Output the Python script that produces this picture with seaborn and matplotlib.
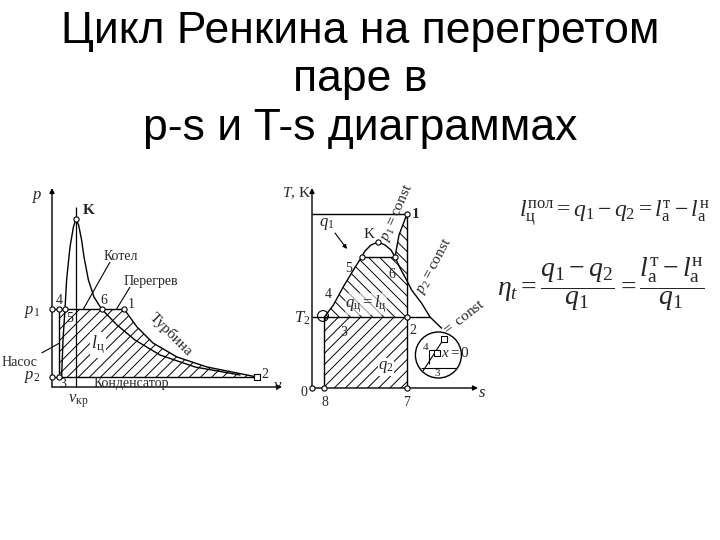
import matplotlib
matplotlib.use("Agg")
import matplotlib.pyplot as plt
from matplotlib.patches import Polygon, Circle
import seaborn as sns

# ---------------- data ----------------
title_lines = ["Цикл Ренкина на перегретом", "паре в", "p-s и T-s диаграммах"]

# p-v diagram (arbitrary units)
pv_p1 = 3.9
pv_p2 = 0.5
pv_v3 = 0.35
pv_v5 = 0.65
pv_v6 = 2.48
pv_v1 = 3.6
pv_v2 = 10.25
pv_vK = 1.2
pv_pK = 8.4
pv_dome_v = [0.48, 0.55, 0.65, 0.73, 0.9, 1.07, 1.2, 1.33, 1.48, 1.6, 1.82, 2.1, 2.48, 3.25, 4.15, 5.4, 7.15, 9.4]
pv_dome_p = [0.45, 2.35, 3.9, 5.35, 7.0, 8.0, 8.4, 8.1, 7.35, 6.5, 5.35, 4.5, 3.9, 3.1, 2.35, 1.6, 1.0, 0.6]
pv_turb_v = [3.6, 4.25, 5.05, 6.25, 7.75, 10.25]
pv_turb_p = [3.9, 3.0, 2.2, 1.5, 1.0, 0.5]

# T-s diagram (arbitrary units)
ts_T1 = 8.7
ts_T2 = 3.55
ts_s3 = 0.62
ts_s1 = 4.75
ts_left_s = [0.62, 1.07, 1.57, 2.07, 2.48]
ts_left_T = [3.55, 4.15, 5.07, 5.9, 6.55]
ts_top_s = [2.48, 2.65, 2.95, 3.3, 3.65, 3.95, 4.15]
ts_top_T = [6.55, 6.85, 7.15, 7.3, 7.15, 6.9, 6.55]
ts_right_s = [4.15, 4.4, 4.73, 4.98, 5.48, 5.9, 6.48]
ts_right_T = [6.55, 6.0, 5.4, 4.9, 4.24, 3.55, 2.99]
ts_sup_s = [4.15, 4.35, 4.75]
ts_sup_T = [6.55, 7.65, 8.7]
ts_K = (3.3, 7.3)
ts_5 = (2.48, 6.55)

# ---------------- style ----------------
sns.set_theme(style="white")
plt.rcParams["font.family"] = ["Liberation Serif", "DejaVu Serif"]
plt.rcParams["mathtext.fontset"] = "custom"
plt.rcParams["mathtext.rm"] = "Liberation Serif"
plt.rcParams["mathtext.it"] = "Liberation Serif:italic"
plt.rcParams["mathtext.bf"] = "Liberation Serif:bold"
plt.rcParams["hatch.linewidth"] = 0.7
plt.rcParams["hatch.color"] = "black"

fig = plt.figure(figsize=(7.2, 5.4), dpi=100)
fig.patch.set_facecolor("white")


def px_axes(left, top, right, bottom):
    return fig.add_axes([left / 720, 1 - bottom / 540, (right - left) / 720, (bottom - top) / 540])


LW = 1.0
K = "black"


def curve(ax, x, y, lw=LW):
    sns.lineplot(x=x, y=y, ax=ax, sort=False, estimator=None, color=K, lw=lw, legend=False)


def seg(ax, x0, y0, x1, y1, lw=LW):
    ax.plot([x0, x1], [y0, y1], color=K, lw=lw, solid_capstyle="butt", clip_on=False)


def arrow_axis(ax, x0, y0, x1, y1):
    ax.annotate("", xy=(x1, y1), xytext=(x0, y0),
                arrowprops=dict(arrowstyle="-|>", color=K, lw=1.0, mutation_scale=7,
                                shrinkA=0, shrinkB=0), annotation_clip=False)


def pts(ax, x, y, marker="o"):
    sns.scatterplot(x=x, y=y, ax=ax, marker=marker, s=14, facecolor="white",
                    edgecolor=K, linewidth=0.8, zorder=5, legend=False, clip_on=False)


# ---------------- title ----------------
title_font = ["Liberation Sans Narrow", "Liberation Sans", "DejaVu Sans"]
for txt, yb in zip(title_lines, [43, 91, 140]):
    fig.text(0.5, 1 - yb / 540, txt, ha="center", va="baseline", fontsize=32,
             family=title_font, color="black")

# ---------------- p-v diagram ----------------
ax1 = px_axes(52, 190, 280, 387)
ax1.set_xlim(0, 11.4)
ax1.set_ylim(0, 9.85)
ax1.axis("off")

hatch1 = Polygon(list(zip([pv_v3, pv_v3] + pv_turb_v, [pv_p2, pv_p1] + pv_turb_p)),
                 closed=True, facecolor="white", edgecolor=K, hatch="///", lw=0.0, zorder=1)
ax1.add_patch(hatch1)

arrow_axis(ax1, 0, 0, 0, 9.95)
arrow_axis(ax1, 0, 0, 11.5, 0)
curve(ax1, pv_dome_v, pv_dome_p)
curve(ax1, pv_turb_v, pv_turb_p)
seg(ax1, 0, pv_p1, pv_v1, pv_p1)
seg(ax1, 0, pv_p2, pv_v2, pv_p2)
seg(ax1, pv_v3, pv_p2, pv_v3, pv_p1)
seg(ax1, pv_vK, 0, pv_vK, 9.0, lw=0.9)
# leader lines
seg(ax1, 2.9, 6.25, 1.57, pv_p1, lw=0.8)
seg(ax1, 3.9, 5.0, 3.23, pv_p1, lw=0.8)
seg(ax1, -0.52, 1.7, 0.38, 2.2, lw=0.8)

pts(ax1, [0, pv_v3, pv_v5, pv_v6, pv_v1, pv_vK, 0, pv_v3],
    [pv_p1, pv_p1, pv_p1, pv_p1, pv_p1, pv_pK, pv_p2, pv_p2])
pts(ax1, [pv_v2], [pv_p2], marker="s")

fs = 10
ax1.text(-0.75, 9.6, "p", style="italic", fontsize=12, ha="center", va="center")
ax1.text(1.85, 8.85, "K", fontsize=11, fontweight="bold", ha="center", va="center")
ax1.text(3.45, 6.55, "Котел", fontsize=fs, ha="center", va="center")
ax1.text(4.95, 5.25, "Перегрев", fontsize=fs, ha="center", va="center")
ax1.text(2.6, 4.3, "6", fontsize=fs, ha="center", va="center")
ax1.text(3.95, 4.1, "1", fontsize=fs, ha="center", va="center")
ax1.text(0.35, 4.3, "4", fontsize=fs, ha="center", va="center")
ax1.text(0.9, 3.4, "5", fontsize=fs, ha="center", va="center")
ax1.text(-1.0, 3.75, "$p_1$", fontsize=12, ha="center", va="center")
ax1.text(-1.0, 0.5, "$p_2$", fontsize=12, ha="center", va="center")
ax1.text(-2.5, 1.2, "Насос", fontsize=fs, ha="left", va="center")
ax1.text(0.55, 0.12, "3", fontsize=fs, ha="center", va="center")
ax1.text(3.95, 0.15, "Конденсатор", fontsize=fs, ha="center", va="center")
ax1.text(5.95, 2.65, "Турбина", fontsize=fs + 1, ha="center", va="center", rotation=-45)
ax1.text(2.3, 2.1, r"$l_{\mathrm{ц}}$", fontsize=13, ha="center", va="center",
         bbox=dict(facecolor="white", edgecolor="none", pad=1.0))
ax1.text(1.3, -0.7, r"$v_{\mathrm{кр}}$", fontsize=12, ha="center", va="center")
ax1.text(11.3, 0.05, "$v$", fontsize=12, ha="center", va="center")
ax1.text(10.65, 0.65, "2", fontsize=fs, ha="center", va="center")

# ---------------- T-s diagram ----------------
ax2 = px_axes(312, 190, 477, 388)
ax2.set_xlim(0, 8.25)
ax2.set_ylim(0, 9.9)
ax2.axis("off")

top_s = ts_left_s + ts_sup_s + [ts_s1]
top_T = ts_left_T + ts_sup_T + [ts_T2]
ax2.add_patch(Polygon(list(zip(top_s, top_T)), closed=True, facecolor="white",
                      edgecolor=K, hatch="\\\\\\", lw=0.0, zorder=1))
ax2.add_patch(Polygon([(ts_s3, 0), (ts_s3, ts_T2), (ts_s1, ts_T2), (ts_s1, 0)], closed=True,
                      facecolor="white", edgecolor=K, hatch="///", lw=0.0, zorder=1))

arrow_axis(ax2, 0, 0, 0, 10.0)
arrow_axis(ax2, 0, 0, 8.3, 0)
curve(ax2, ts_left_s, ts_left_T)
curve(ax2, ts_top_s, ts_top_T)
curve(ax2, ts_right_s, ts_right_T)
curve(ax2, ts_sup_s, ts_sup_T)
seg(ax2, ts_5[0], ts_5[1], ts_sup_s[0], ts_sup_T[0])
seg(ax2, 0, ts_T1, ts_s1, ts_T1)
seg(ax2, 0, ts_T2, 5.9, ts_T2)
seg(ax2, ts_s1, 0, ts_s1, ts_T1)
seg(ax2, ts_s3, 0, ts_s3, ts_T2)
ax2.annotate("", xy=(1.75, 6.95), xytext=(1.15, 7.75),
             arrowprops=dict(arrowstyle="-|>", color=K, lw=0.8, mutation_scale=6,
                             shrinkA=0, shrinkB=0))

# small circle around point 3 and magnified circle
ax2.add_patch(Circle((0.55, 3.6), 0.27, fill=False, edgecolor=K, lw=0.8, clip_on=False))
ax2.add_patch(Circle((6.32, 1.65), 1.15, fill=False, edgecolor=K, lw=1.0, clip_on=False))
seg(ax2, 5.55, 0.85, 6.65, 2.55, lw=0.8)
seg(ax2, 5.45, 1.0, 7.2, 1.0, lw=0.8)
seg(ax2, 5.85, 1.2, 5.85, 1.9, lw=0.8)
seg(ax2, 5.85, 1.9, 6.2, 1.9, lw=0.8)
pts(ax2, [6.25, 6.6], [1.75, 2.45], marker="s")
ax2.text(5.7, 2.05, "4", fontsize=8, ha="center", va="center")
ax2.text(6.25, 0.7, "3", fontsize=8, ha="center", va="center")
ax2.text(7.2, 1.75, "$x = 0$", fontsize=11, ha="center", va="center")

pts(ax2, [0, ts_s3, ts_s1, ts_s1, ts_s1, ts_K[0], ts_5[0], ts_sup_s[0]],
    [0, 0, 0, ts_T2, ts_T1, ts_K[1], ts_5[1], ts_sup_T[0]])

ax2.text(-0.05, 9.75, "$T$, K", fontsize=11, ha="right", va="center")
ax2.text(0.75, 8.2, "$q_1$", fontsize=12, ha="center", va="center")
ax2.text(2.85, 7.7, "K", fontsize=11, ha="center", va="center")
ax2.text(1.85, 5.95, "5", fontsize=fs, ha="center", va="center")
ax2.text(4.0, 5.7, "6", fontsize=fs, ha="center", va="center")
ax2.text(5.2, 8.7, "1", fontsize=11, fontweight="bold", ha="center", va="center")
ax2.text(0.8, 4.65, "4", fontsize=fs, ha="center", va="center")
ax2.text(-0.5, 3.5, "$T_2$", fontsize=12, ha="center", va="center")
ax2.text(1.6, 2.75, "3", fontsize=fs, ha="center", va="center")
ax2.text(2.7, 4.2, r"$q_{\mathrm{ц}} = l_{\mathrm{ц}}$", fontsize=12, ha="center", va="center",
         bbox=dict(facecolor="white", edgecolor="none", pad=0.3, alpha=0.6))
ax2.text(5.05, 2.9, "2", fontsize=fs, ha="center", va="center")
ax2.text(3.7, 1.05, "$q_2$", fontsize=12, ha="center", va="center",
         bbox=dict(facecolor="white", edgecolor="none", pad=0.5))
ax2.text(-0.4, -0.2, "0", fontsize=fs, ha="center", va="center")
ax2.text(0.65, -0.75, "8", fontsize=fs, ha="center", va="center")
ax2.text(4.75, -0.75, "7", fontsize=fs, ha="center", va="center")
ax2.text(8.5, -0.25, "$s$", fontsize=12, ha="center", va="center")
ax2.text(4.25, 8.75, "$p_1 = $const", fontsize=11, ha="center", va="center", rotation=66)
ax2.text(6.1, 6.1, "$p_2 = $const", fontsize=11, ha="center", va="center", rotation=62)
ax2.text(7.6, 3.5, "$=$ const", fontsize=11, ha="center", va="center", rotation=38)

# ---------------- formulas ----------------
fig.text(614 / 720, 1 - 213 / 540,
         r"$l_{\mathrm{ц}}^{\mathrm{пол}} = q_1 - q_2 = l_{\mathrm{а}}^{\mathrm{т}} - l_{\mathrm{а}}^{\mathrm{н}}$",
         ha="center", va="center", fontsize=17)
fig.text(601 / 720, 1 - 284 / 540,
         r"$\eta_t = \dfrac{q_1 - q_2}{q_1} = \dfrac{l_{\mathrm{а}}^{\mathrm{т}} - l_{\mathrm{а}}^{\mathrm{н}}}{q_1}$",
         ha="center", va="center", fontsize=20)

fig.savefig("out.png", dpi=100, facecolor="white")
